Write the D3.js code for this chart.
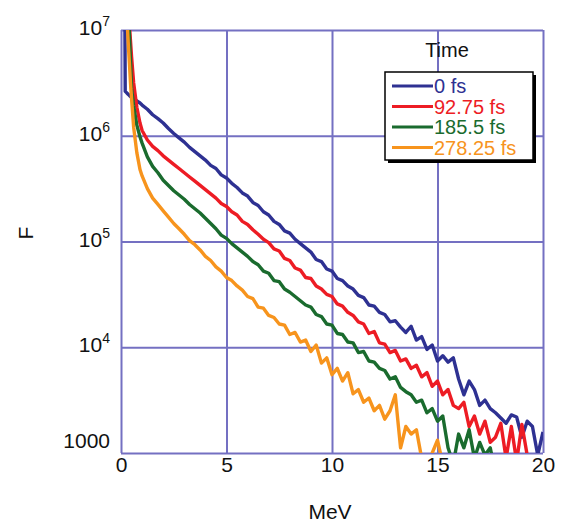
<!DOCTYPE html>
<html>
<head>
<meta charset="utf-8">
<script src="https://cdn.jsdelivr.net/npm/d3@7"></script>
<style>
  body { margin: 0; background: #fff; }
  text { font-family: "Liberation Sans", Arial, sans-serif; }
</style>
</head>
<body>
<svg id="svg" width="565" height="524"></svg>
<script>
// energy grid (MeV)
const energy = [
  0.18, 0.2, 0.25, 0.3, 0.35, 0.4, 0.45, 0.5, 0.6, 0.75, 0.9,
  1.0, 1.25, 1.5, 1.75, 2.0, 2.25, 2.5, 2.75, 3.0, 3.25, 3.5, 3.75,
  4.0, 4.25, 4.5, 4.75, 5.0, 5.25, 5.5, 5.75, 6.0, 6.25, 6.5, 6.75,
  7.0, 7.25, 7.5, 7.75, 8.0, 8.25, 8.5, 8.75, 9.0, 9.25, 9.5, 9.75,
  10.0, 10.25, 10.5, 10.75, 11.0, 11.25, 11.5, 11.75, 12.0, 12.25, 12.5, 12.75,
  13.0, 13.25, 13.5, 13.75, 14.0, 14.25, 14.5, 14.75, 15.0, 15.25, 15.5, 15.75,
  16.0, 16.25, 16.5, 16.75, 17.0, 17.25, 17.5, 17.75, 18.0, 18.25, 18.5, 18.75,
  19.0, 19.25, 19.5, 19.75, 20.0,
];

// F at 0 fs
const f0fs = [
  2.0e7, 2.63e6, 2.57e6, 2.51e6, 2.45e6, 2.40e6, 2.34e6, 2.32e6, 2.26e6, 2.14e6, 2.04e6,
  1.95e6, 1.78e6, 1.58e6, 1.45e6, 1.32e6, 1.17e6, 1.05e6, 9.55e5, 8.71e5, 7.76e5, 7.08e5, 6.46e5,
  5.89e5, 5.25e5, 4.90e5, 4.27e5, 3.98e5, 3.55e5, 3.24e5, 2.88e5, 2.69e5, 2.34e5, 2.19e5, 1.91e5,
  1.78e5, 1.55e5, 1.45e5, 1.26e5, 1.20e5, 1.05e5, 9.55e4, 8.71e4, 7.94e4, 6.76e4, 6.46e4, 5.50e4,
  5.25e4, 4.47e4, 4.27e4, 3.80e4, 3.55e4, 3.09e4, 2.95e4, 2.51e4, 2.45e4, 2.14e4, 2.04e4, 1.74e4,
  1.78e4, 1.55e4, 1.38e4, 1.58e4, 1.17e4, 1.26e4, 9.55e3, 1.05e4, 7.41e3, 8.32e3, 7.24e3, 7.94e3,
  5.01e3, 3.55e3, 4.79e3, 3.98e3, 2.82e3, 3.16e3, 2.63e3, 2.40e3, 2.14e3, 1.91e3, 2.29e3, 2.19e3,
  1.41e3, 2.00e3, 1.78e3, 955, 1.58e3,
];

// F at 92.75 fs
const f93fs = [
  null, null, null, 2.5e7, 1.6e7, 1.1e7, 7.9e6, 5.6e6, 3.16e6, 1.86e6, 1.32e6,
  1.12e6, 9.12e5, 7.94e5, 7.24e5, 6.46e5, 5.89e5, 5.37e5, 4.90e5, 4.47e5, 4.07e5, 3.72e5, 3.39e5,
  3.09e5, 2.82e5, 2.57e5, 2.29e5, 2.14e5, 1.91e5, 1.78e5, 1.55e5, 1.45e5, 1.29e5, 1.17e5, 1.05e5,
  9.77e4, 8.51e4, 8.13e4, 6.92e4, 6.61e4, 5.62e4, 5.37e4, 4.57e4, 4.47e4, 3.80e4, 3.55e4, 3.16e4,
  3.02e4, 2.57e4, 2.45e4, 2.14e4, 2.00e4, 1.74e4, 1.66e4, 1.35e4, 1.41e4, 1.10e4, 1.07e4, 8.91e3,
  9.33e3, 7.41e3, 7.76e3, 6.31e3, 6.76e3, 5.25e3, 5.75e3, 4.27e3, 4.79e3, 3.55e3, 3.98e3, 2.82e3,
  2.63e3, 3.02e3, 1.78e3, 2.24e3, 1.51e3, 2.00e3, 1.26e3, 1.41e3, 1.91e3, 891, 1.78e3, 832,
  1.86e3, 955, 631, null, null,
];

// F at 185.5 fs
const f186fs = [
  null, null, null, 2.5e7, 1.6e7, 8.9e6, 5.0e6, 2.82e6, 1.91e6, 1.26e6, 9.77e5,
  8.51e5, 6.31e5, 5.13e5, 4.47e5, 3.80e5, 3.39e5, 3.02e5, 2.75e5, 2.51e5, 2.24e5, 2.04e5, 1.86e5,
  1.66e5, 1.48e5, 1.32e5, 1.15e5, 1.07e5, 9.55e4, 8.71e4, 7.94e4, 7.24e4, 6.46e4, 6.03e4, 5.25e4,
  5.01e4, 4.27e4, 4.17e4, 3.55e4, 3.31e4, 3.02e4, 2.75e4, 2.51e4, 2.40e4, 2.04e4, 1.95e4, 1.66e4,
  1.62e4, 1.35e4, 1.32e4, 1.12e4, 1.10e4, 8.91e3, 9.12e3, 7.41e3, 7.24e3, 6.31e3, 6.03e3, 5.01e3,
  5.25e3, 4.17e3, 3.80e3, 3.55e3, 3.02e3, 3.16e3, 2.40e3, 2.63e3, 2.00e3, 2.24e3, 1.12e3, 794,
  1.51e3, 1.12e3, 1.66e3, 891, 1.26e3, 955, 1.12e3, 631, null, null, null, null,
  null, null, null, null, null,
];

// F at 278.25 fs
const f278fs = [
  null, null, 2.0e7, 1.1e7, 7.1e6, 4.8e6, 3.16e6, 2.24e6, 1.20e6, 6.92e5, 4.79e5,
  4.17e5, 3.16e5, 2.57e5, 2.24e5, 1.95e5, 1.70e5, 1.48e5, 1.32e5, 1.17e5, 1.02e5, 9.33e4, 8.32e4,
  7.24e4, 6.61e4, 5.75e4, 5.25e4, 4.57e4, 4.27e4, 3.80e4, 3.47e4, 3.02e4, 2.88e4, 2.40e4, 2.34e4,
  2.00e4, 1.91e4, 1.66e4, 1.62e4, 1.32e4, 1.38e4, 1.12e4, 1.17e4, 9.12e3, 1.05e4, 7.08e3, 7.94e3,
  5.50e3, 6.31e3, 4.79e3, 5.75e3, 3.63e3, 3.98e3, 3.02e3, 3.31e3, 2.51e3, 2.82e3, 2.09e3, 2.51e3,
  3.55e3, 1.12e3, 1.78e3, 1.51e3, 1.66e3, 891, 631, 1.00e3, 1.32e3, 794, null, null,
  null, null, null, null, null, null, null, null, null, null, null, null,
  null, null, null, null, null,
];

const seriesNames = ["0 fs", "92.75 fs", "185.5 fs", "278.25 fs"];
const seriesValues = [f0fs, f93fs, f186fs, f278fs];
const seriesColors = ["#2e3192", "#ed1c24", "#1a6b2e", "#f7941d"];

const xTicks = [0, 5, 10, 15, 20];
const yTicks = [1e3, 1e4, 1e5, 1e6, 1e7];
const yTickLabels = [["1000", ""], ["10", "4"], ["10", "5"], ["10", "6"], ["10", "7"]];

const gridColor = "#7470c2";
const plot = { left: 121, right: 543, top: 30, bottom: 453 };

let svg = d3.select("#svg");

const x = d3.scaleLinear().domain([0, 20]).range([plot.left, plot.right]);
const y = d3.scaleLog().domain([1e3, 1e7]).range([plot.bottom, plot.top]);

svg.append("defs")
  .append("clipPath")
  .attr("id", "plot-clip")
  .append("rect")
  .attr("x", plot.left)
  .attr("y", plot.top)
  .attr("width", plot.right - plot.left)
  .attr("height", plot.bottom - plot.top);

// vertical grid + x tick labels
svg.append("g")
  .attr("transform", `translate(0,${plot.bottom})`)
  .call(
    d3.axisBottom(x)
      .tickValues(xTicks)
      .tickSize(-(plot.bottom - plot.top))
      .tickPadding(4)
      .tickFormat(d3.format("d")),
  )
  .call((g) => g.select(".domain").remove())
  .call((g) => g.selectAll("line").attr("stroke", gridColor).attr("stroke-width", 2))
  .call((g) =>
    g.selectAll("text")
      .attr("fill", "#111")
      .attr("font-size", 21)
      .attr("font-family", '"Liberation Sans", Arial, sans-serif'),
  );

// horizontal grid
svg.append("g")
  .attr("transform", `translate(${plot.left},0)`)
  .call(
    d3.axisLeft(y)
      .tickValues(yTicks)
      .tickSize(-(plot.right - plot.left))
      .tickFormat(() => ""),
  )
  .call((g) => g.select(".domain").remove())
  .call((g) => g.selectAll("line").attr("stroke", gridColor).attr("stroke-width", 2));

// y tick labels with superscripts
let yLabel = svg.append("g")
  .selectAll("text")
  .data(yTicks)
  .join("text")
  .attr("x", 110)
  .attr("y", (d) => y(d) + (d === 1e3 ? -5 : 5))
  .attr("text-anchor", "end")
  .attr("font-size", 21)
  .attr("fill", "#111");
yLabel.append("tspan").text((d, i) => yTickLabels[i][0]);
yLabel.append("tspan")
  .attr("font-size", 14)
  .attr("dy", -9)
  .text((d, i) => yTickLabels[i][1]);

// axis titles
svg.append("text")
  .attr("x", plot.left + (plot.right - plot.left) / 2 - 2)
  .attr("y", 519)
  .attr("text-anchor", "middle")
  .attr("font-size", 21)
  .attr("fill", "#111")
  .text("MeV");

svg.append("text")
  .attr("transform", `translate(33,233) rotate(-90)`)
  .attr("text-anchor", "middle")
  .attr("font-size", 21)
  .attr("fill", "#111")
  .text("F");

// curves
const line = d3.line()
  .defined((d) => d[1] != null)
  .x((d) => x(d[0]))
  .y((d) => y(d[1]));

svg.append("g")
  .attr("clip-path", "url(#plot-clip)")
  .selectAll("path")
  .data(seriesValues)
  .join("path")
  .attr("fill", "none")
  .attr("stroke", (d, i) => seriesColors[i])
  .attr("stroke-width", 3.4)
  .attr("stroke-linejoin", "round")
  .attr("d", (vals) => line(energy.map((e, i) => [e, vals[i]])));

// legend
const legend = svg.append("g").attr("transform", "translate(385,72)");
svg.append("text")
  .attr("x", 447)
  .attr("y", 57)
  .attr("text-anchor", "middle")
  .attr("font-size", 20)
  .attr("fill", "#111")
  .text("Time");

legend.append("rect")
  .attr("x", 3)
  .attr("y", 3)
  .attr("width", 148)
  .attr("height", 88)
  .attr("fill", "#000");
legend.append("rect")
  .attr("width", 148)
  .attr("height", 88)
  .attr("fill", "#fff")
  .attr("stroke", "#000")
  .attr("stroke-width", 1.5);

let entry = legend.selectAll("g.entry")
  .data(seriesNames)
  .join("g")
  .attr("class", "entry")
  .attr("transform", (d, i) => `translate(0,${14 + i * 20.5})`);
entry.append("line")
  .attr("x1", 7)
  .attr("x2", 48)
  .attr("stroke", (d, i) => seriesColors[i])
  .attr("stroke-width", 3);
entry.append("text")
  .attr("x", 49)
  .attr("y", 7)
  .attr("font-size", 20)
  .attr("fill", (d, i) => seriesColors[i])
  .text((d) => d);
</script>
</body>
</html>
